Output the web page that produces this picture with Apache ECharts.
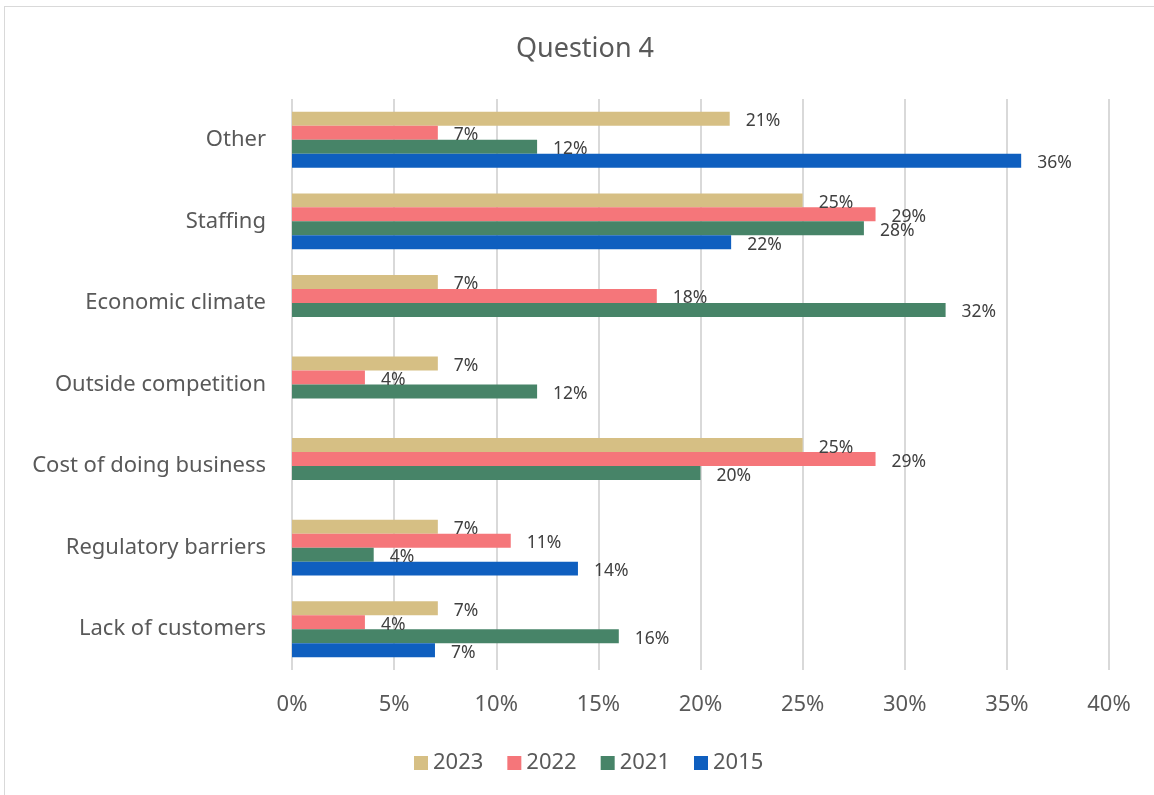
<!DOCTYPE html>
<html>
<head>
<meta charset="utf-8">
<script src="https://cdn.jsdelivr.net/npm/echarts@6/dist/echarts.min.js"></script>
<style>
  html, body { margin: 0; padding: 0; background: #fff; overflow: hidden; }
  #frame { position: absolute; left: 4px; top: 6px; width: 1160px; height: 800px; border: 1px solid #d9d9d9; box-sizing: border-box; }
  #chart { position: absolute; left: 0; top: 0; width: 1154px; height: 795px; }
</style>
</head>
<body>
<div id="frame"></div>
<div id="chart"></div>
<script>
// Categories listed bottom to top along the vertical axis
const categories = ['Lack of customers', 'Regulatory barriers', 'Cost of doing business', 'Outside competition', 'Economic climate', 'Staffing', 'Other'];
// Share of responses (%) per year
const values2023 = [7.14, 7.14, 25, 7.14, 7.14, 25, 21.43];
const values2022 = [3.57, 10.71, 28.57, 3.57, 17.86, 28.57, 7.14];
const values2021 = [16, 4, 20, 12, 32, 28, 12];
const values2015 = [7.0, 14.0, null, null, null, 21.5, 35.7];
const xTicks = [0, 5, 10, 15, 20, 25, 30, 35, 40];

const FONT = '"Noto Sans", "Open Sans", sans-serif';
const TEXT = '#595959';

function bar(name, data, color) {
  return {
    name: name,
    type: 'bar',
    data: data.map(v => (v === null ? '-' : v)),
    itemStyle: { color: color },
    barGap: '0%',
    barCategoryGap: '31.4%',
    label: {
      show: true,
      position: 'right',
      distance: 16,
      offset: [0, 2.5],
      color: '#404040',
      fontFamily: FONT,
      fontSize: 17.5,
      formatter: p => Math.round(p.value) + '%'
    }
  };
}

const chart = echarts.init(document.getElementById('chart'));
chart.setOption({
  animation: false,
  backgroundColor: 'transparent',
  title: {
    text: 'Question 4',
    left: 580,
    textAlign: 'center',
    top: 31,
    textStyle: { fontFamily: FONT, fontSize: 27, fontWeight: 'normal', color: TEXT }
  },
  legend: {
    bottom: 16,
    left: 409,
    itemWidth: 14,
    itemHeight: 14,
    itemGap: 24,
    icon: 'rect',
    textStyle: { fontFamily: FONT, fontSize: 22, color: TEXT }
  },
  grid: { left: 292, right: 45, top: 99, bottom: 125 },
  xAxis: {
    type: 'value',
    min: xTicks[0],
    max: xTicks[xTicks.length - 1],
    interval: xTicks[1] - xTicks[0],
    axisLine: { show: false },
    axisTick: { show: false },
    splitLine: { show: true, lineStyle: { color: '#d9d9d9', width: 2 } },
    axisLabel: { fontFamily: FONT, fontSize: 22, color: TEXT, margin: 24, formatter: v => v + '%' }
  },
  yAxis: {
    type: 'category',
    data: categories,
    axisLine: { show: false },
    axisTick: { show: false },
    axisLabel: { fontFamily: FONT, fontSize: 22, color: TEXT, margin: 26, padding: [4, 0, 0, 0] }
  },
  // Series listed top-down within each category group
  series: [
    bar('2023', values2023, '#d6bf84'),
    bar('2022', values2022, '#f5767a'),
    bar('2021', values2021, '#478468'),
    bar('2015', values2015, '#0f5fbf')
  ]
});
</script>
</body>
</html>
